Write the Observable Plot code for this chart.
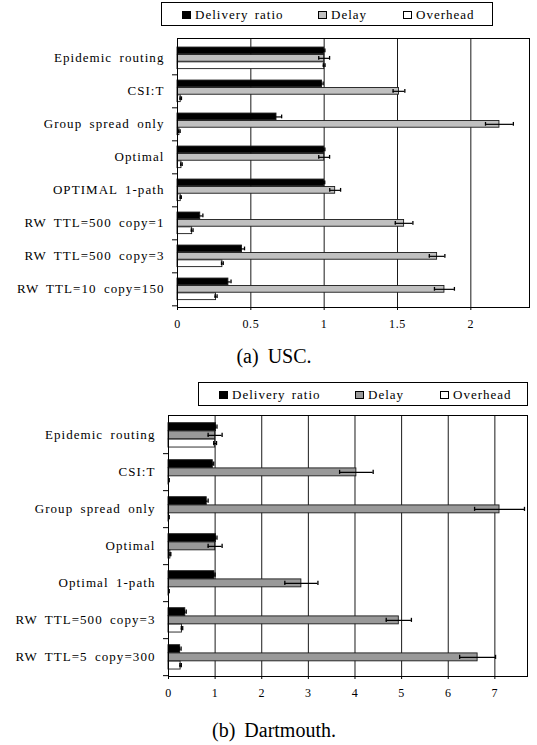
<!DOCTYPE html>
<html><head><meta charset="utf-8">
<script src="https://cdn.jsdelivr.net/npm/d3@7"></script>
<script src="https://cdn.jsdelivr.net/npm/@observablehq/plot@0.6"></script>
<style>
body{margin:0;background:#fff;width:537px;height:745px;position:relative;overflow:hidden;font-family:"Liberation Serif","Times New Roman",serif;color:#000}
.legend{position:absolute;border:1px solid #000;box-sizing:border-box;height:24px;width:332px;background:#fff}
.sw{position:absolute;top:8px;width:9px;height:8px;box-sizing:border-box;border:1px solid #000}
.lt{position:absolute;top:5px;font-size:13px;line-height:13px;letter-spacing:1px;word-spacing:2px;white-space:nowrap}
.caption{position:absolute;left:0;width:548px;text-align:center;font-size:20px;line-height:20px;word-spacing:4px}
.chart{position:absolute;left:0}
svg g[aria-label="y-axis tick label"] text{letter-spacing:1.06px;word-spacing:3px}
svg g[aria-label="x-axis tick label"] text{letter-spacing:0.6px}
</style></head>
<body>
<div id="legA" class="legend" style="left:161px;top:2px"></div>
<div id="chartA" class="chart" style="top:0px"></div>
<div class="caption" style="top:346px">(a) USC.</div>
<div id="legB" class="legend" style="left:198px;top:382px;width:330px"></div>
<div id="chartB" class="chart" style="top:380px"></div>
<div class="caption" style="top:720px">(b) Dartmouth.</div>
<script>
// ---- USC data ----
const uscCategories = ["Epidemic routing","CSI:T","Group spread only","Optimal","OPTIMAL 1-path","RW TTL=500 copy=1","RW TTL=500 copy=3","RW TTL=10 copy=150"];
const uscDelivery    = [1.0, 0.985, 0.675, 1.0, 1.0, 0.155, 0.44, 0.347];
const uscDeliveryErr = [0.005, 0.008, 0.035, 0.005, 0.004, 0.018, 0.017, 0.018];
const uscDelay       = [1.0, 1.51, 2.195, 1.0, 1.075, 1.545, 1.77, 1.82];
const uscDelayErr    = [0.037, 0.04, 0.095, 0.037, 0.037, 0.06, 0.053, 0.068];
const uscOverhead    = [1.0, 0.022, 0.013, 0.027, 0.022, 0.10, 0.306, 0.263];
const uscOverheadErr = [0.006, 0.005, 0.005, 0.005, 0.004, 0.006, 0.006, 0.007];
const uscTicks = [0, 0.5, 1, 1.5, 2];

// ---- Dartmouth data ----
const dartCategories = ["Epidemic routing","CSI:T","Group spread only","Optimal","Optimal 1-path","RW TTL=500 copy=3","RW TTL=5 copy=300"];
const dartDelivery    = [1.02, 0.95, 0.82, 1.02, 0.985, 0.36, 0.25];
const dartDeliveryErr = [0.02, 0.02, 0.03, 0.02, 0.015, 0.02, 0.02];
const dartDelay       = [1.0, 4.03, 7.1, 1.0, 2.85, 4.94, 6.63];
const dartDelayErr    = [0.15, 0.36, 0.535, 0.15, 0.355, 0.27, 0.385];
const dartOverhead    = [1.0, 0.01, 0.01, 0.04, 0.01, 0.29, 0.26];
const dartOverheadErr = [0.03, 0.005, 0.005, 0.01, 0.005, 0.015, 0.015];
const dartTicks = [0, 1, 2, 3, 4, 5, 6, 7];

const seriesNames = ["Delivery ratio", "Delay", "Overhead"];

function rows(cats, vals, errs) {
  return cats.map((c, i) => ({cat: c, v: vals[i], lo: vals[i] - errs[i], hi: vals[i] + errs[i]}));
}

function legend(el, fills) {
  const pos = [[20, 33], [156, 169], [241, 254]];
  seriesNames.forEach((n, k) => {
    const sw = document.createElement("div");
    sw.className = "sw"; sw.style.left = pos[k][0] + "px"; sw.style.background = fills[k];
    const t = document.createElement("div");
    t.className = "lt"; t.style.left = pos[k][1] + "px"; t.textContent = n;
    el.append(sw, t);
  });
}

function chart(cfg) {
  const {cats, series, fills, domain, ticks, height, marginLeft, marginRight, marginTop, marginBottom} = cfg;
  const bw = (height - marginTop - marginBottom) / cats.length;
  const padTop = 0.18 * bw, padBottom = 0.16 * bw;
  const barH = (bw - padTop - padBottom) / 3;
  const marks = [
    Plot.gridX(ticks.filter(t => t > 0), {stroke: "#1a1a1a", strokeOpacity: 1, strokeWidth: 1})
  ];
  series.forEach((data, k) => {
    const top = padTop + k * barH;
    marks.push(Plot.barX(data, {x: "v", y: "cat", fill: fills[k], stroke: "#1a1a1a", strokeWidth: 0.9,
      insetTop: top, insetBottom: bw - top - barH}));
  });
  series.forEach((data, k) => {
    const center = padTop + k * barH + barH / 2;
    marks.push(Plot.ruleY(data, {y: "cat", x1: "lo", x2: "hi", dy: center - bw / 2, stroke: "#000", strokeWidth: 1.2}));
    for (const key of ["lo", "hi"]) {
      marks.push(Plot.tickX(data, {x: key, y: "cat", insetTop: center - 2.2, insetBottom: bw - center - 2.2, stroke: "#000", strokeWidth: 1.3}));
    }
  });
  marks.push(Plot.ruleY(cats, {y: d => d, x1: () => 0, x2: () => 0, insetLeft: -5, dy: bw / 2, stroke: "#000"}));
  marks.push(Plot.axisY({tickSize: 0, tickPadding: 13, fontSize: 13, label: null}));
  marks.push(Plot.axisX({ticks, tickSize: 3, tickPadding: 9, tickFormat: d => String(d), fontSize: 12, label: null}));
  marks.push(Plot.frame({stroke: "#000", strokeWidth: 1}));
  return Plot.plot({
    width: 537, height, marginLeft, marginRight, marginTop, marginBottom,
    x: {domain, label: null},
    y: {domain: cats, padding: 0, label: null},
    style: {fontFamily: "'Liberation Serif', 'Times New Roman', serif", fontSize: "12px", color: "#000", background: "transparent", overflow: "visible"},
    marks
  });
}

const fillsA = ["#000000", "#c0c0c0", "#ffffff"];
const fillsB = ["#000000", "#999999", "#ffffff"];

document.getElementById("chartA").append(chart({
  cats: uscCategories,
  series: [rows(uscCategories, uscDelivery, uscDeliveryErr), rows(uscCategories, uscDelay, uscDelayErr), rows(uscCategories, uscOverhead, uscOverheadErr)],
  fills: fillsA, domain: [0, 2.4], ticks: uscTicks,
  height: 335, marginLeft: 177, marginRight: 8, marginTop: 38, marginBottom: 28
}));
document.getElementById("chartB").append(chart({
  cats: dartCategories,
  series: [rows(dartCategories, dartDelivery, dartDeliveryErr), rows(dartCategories, dartDelay, dartDelayErr), rows(dartCategories, dartOverhead, dartOverheadErr)],
  fills: fillsB, domain: [0, 7.7], ticks: dartTicks,
  height: 324, marginLeft: 168, marginRight: 10, marginTop: 35, marginBottom: 28
}));
legend(document.getElementById("legA"), fillsA);
legend(document.getElementById("legB"), fillsB);
</script>
</body></html>
